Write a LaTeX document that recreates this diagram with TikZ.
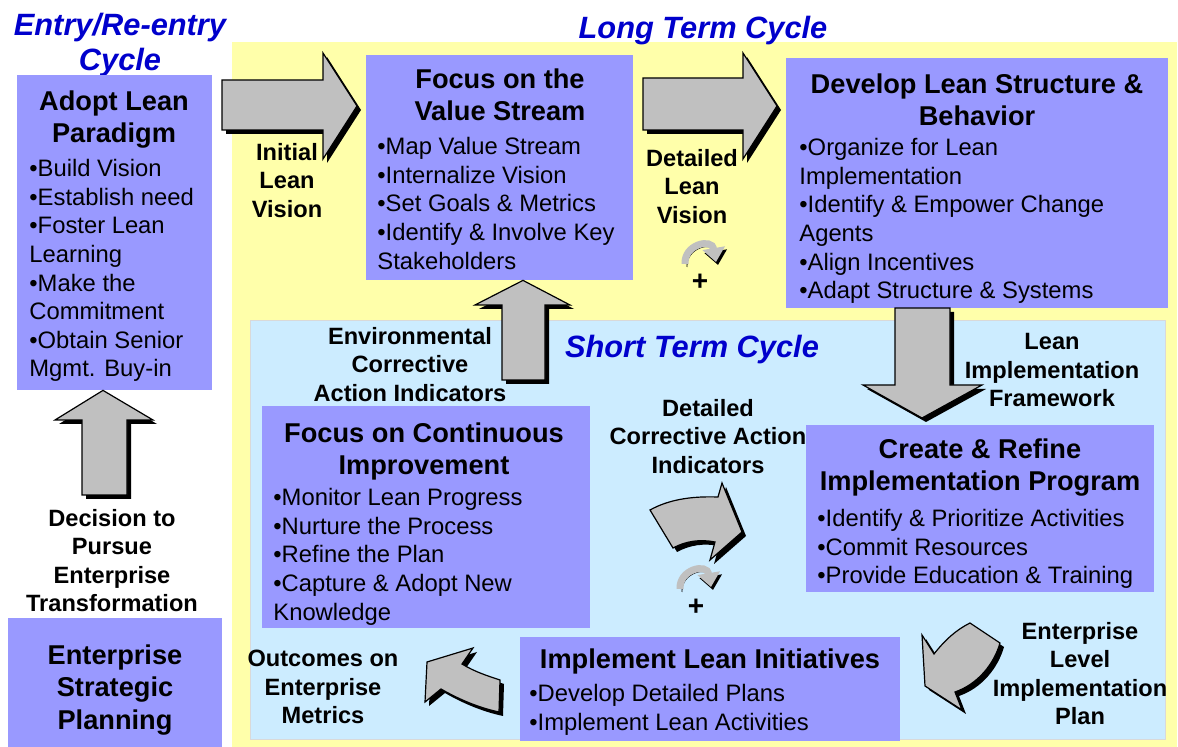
\documentclass[tikz,border=0pt]{standalone}
\usepackage{fontspec}
\setmainfont{Liberation Sans}
\usetikzlibrary{positioning, fit, arrows.meta}

\definecolor{boxblue}{RGB}{153,153,255}
\definecolor{longyellow}{RGB}{255,255,170}
\definecolor{shortblue}{RGB}{204,236,255}
\definecolor{headblue}{RGB}{0,0,204}
\definecolor{arrowgray}{RGB}{192,192,192}

\begin{document}
\begin{tikzpicture}[
				x=0.5pt, y=-0.5pt,
				box/.style={fill=boxblue, inner sep=0pt},
				boxtitle/.style={font=\fontsize{13.6}{16}\selectfont\bfseries, align=center, anchor=north, inner sep=0pt},
				boxlist/.style={font=\fontsize{11.9}{14.3}\selectfont, align=left, anchor=north west, inner sep=0pt},
				flowtext/.style={font=\fontsize{11.8}{14.2}\selectfont\bfseries, align=center, anchor=north, inner sep=0pt},
				cyclehead/.style={font=\fontsize{15.4}{17.5}\selectfont\bfseries\itshape, text=headblue, align=center, anchor=north, inner sep=0pt},
				bigarrow/.style={fill=arrowgray, draw=black, line width=0.6pt, line join=miter,
					preaction={fill=black, transform canvas={shift={(4,4)}}}},
				turnarrow/.style={draw=arrowgray, line width=3.5pt, -{Triangle[width=11pt,length=7pt]},
					preaction={draw=black, transform canvas={shift={(2,3)}}}},
				plus/.style={font=\fontsize{14}{14}\selectfont\bfseries, inner sep=0pt}
				]
				\useasboundingbox (0,0) rectangle (1178,747);
				\node[fill=longyellow, inner sep=0pt, fit={(232,42) (1177,747)}] (longcycle) {};
				\node[fill=shortblue, draw=black!15, inner sep=0pt, fit={(250,320) (1165,739)}] (shortcycle) {};

				\node[cyclehead] (entryhead) at (120,13) {Entry/Re-entry\\Cycle};
				\node[cyclehead] (longhead) at (703,16) {Long Term Cycle};
				\node[cyclehead] (shorthead) at (692,335) {Short Term Cycle};

				\node[box, fit={(17,75) (212,390)}] (adopt) {};
				\node[boxtitle] (adopt-title) at (114,90) {Adopt Lean\\Paradigm};
				\node[boxlist] (adopt-list) at (29,159) {•Build Vision\\•Establish need\\•Foster Lean\\Learning\\•Make the\\Commitment\\•Obtain Senior\\Mgmt. Buy-in};

				\node[box, fit={(8,618) (222,747)}] (strategic) {};
				\node[boxtitle, font=\fontsize{13.6}{16.3}\selectfont\bfseries] (strategic-title) at (115,644) {Enterprise\\Strategic\\Planning};

				\node[box, fit={(366,55) (633,280)}] (stream) {};
				\node[boxtitle] (stream-title) at (500,68) {Focus on the\\Value Stream};
				\node[boxlist] (stream-list) at (377,137) {•Map Value Stream\\•Internalize Vision\\•Set Goals \& Metrics\\•Identify \& Involve Key\\Stakeholders};

				\node[box, fit={(786,58) (1168,308)}] (structure) {};
				\node[boxtitle] (structure-title) at (977,73) {Develop Lean Structure \&\\Behavior};
				\node[boxlist] (structure-list) at (799,138) {•Organize for Lean\\Implementation\\•Identify \& Empower Change\\Agents\\•Align Incentives\\•Adapt Structure \& Systems};

				\node[box, fit={(262,406) (590,628)}] (improve) {};
				\node[boxtitle] (improve-title) at (424,422) {Focus on Continuous\\Improvement};
				\node[boxlist] (improve-list) at (273,488) {•Monitor Lean Progress\\•Nurture the Process\\•Refine the Plan\\•Capture \& Adopt New\\Knowledge};

				\node[box, fit={(806,425) (1154,592)}] (program) {};
				\node[boxtitle] (program-title) at (980,438) {Create \& Refine\\Implementation Program};
				\node[boxlist] (program-list) at (817,509) {•Identify \& Prioritize Activities\\•Commit Resources\\•Provide Education \& Training};

				\node[box, fit={(520,637) (900,741)}] (initiatives) {};
				\node[boxtitle] (initiatives-title) at (710,648) {Implement Lean Initiatives};
				\node[boxlist] (initiatives-list) at (529,684) {•Develop Detailed Plans\\•Implement Lean Activities};

				\draw[bigarrow] (222,80) -- (323,80) -- (323,53) -- (357,106) -- (323,159) -- (323,130) -- (222,130) -- cycle;
				\draw[bigarrow] (643,78) -- (743,78) -- (743,53) -- (777,106) -- (743,159) -- (743,130) -- (643,130) -- cycle;
				\draw[bigarrow] (stream.south -| 523,0) -- (570,305) -- (545,305) -- (545,380) -- (502,380) -- (502,305) -- (475,305) -- cycle;
				\draw[bigarrow] (adopt.south -| 103,0) -- (153,420) -- (127,420) -- (127,495) -- (82,495) -- (82,420) -- (55,420) -- cycle;
				\draw[bigarrow] (895,308) -- (950,308) -- (950,385) -- (982,385) -- (922,418) -- (863,385) -- (895,385) -- cycle;
				\draw[bigarrow] (650,510) .. controls (668,500) and (690,496) .. (718,497) -- (722,483) -- (742,532) -- (710,560) -- (715,542) .. controls (700,539) and (686,541) .. (673,548) -- cycle;
				\draw[bigarrow] (922,635) -- (934,654) .. controls (945,640) and (956,630) .. (970,623) -- (1000,643) .. controls (994,664) and (978,684) .. (955,692) -- (962,710) -- (925,686) -- cycle;
				\draw[bigarrow] (427,662) -- (473,648) -- (462,664) .. controls (475,672) and (488,676) .. (500,680) -- (499,712) .. controls (480,708) and (460,700) .. (441,689) -- (425,702) -- cycle;

				\draw[turnarrow] (685,264) .. controls (684,244) and (712,238) .. (716,262);
				\node[plus] (plus-long) at (700,282) {+};
				\draw[turnarrow] (680,589) .. controls (679,569) and (707,563) .. (711,587);
				\node[plus] (plus-short) at (696,607) {+};

				\node[flowtext] (initial) at (287,143) {Initial\\Lean\\Vision};
				\node[flowtext] (detailed) at (692,149) {Detailed\\Lean\\Vision};
				\node[flowtext] (environmental) at (410,327) {Environmental\\Corrective\\Action Indicators};
				\node[flowtext] (framework) at (1052,333) {Lean\\Implementation\\Framework};
				\node[flowtext] (corrective) at (708,399) {Detailed\\Corrective Action\\Indicators};
				\node[flowtext] (decision) at (112,509) {Decision to\\Pursue\\Enterprise\\Transformation};
				\node[flowtext] (outcomes) at (323,650) {Outcomes on\\Enterprise\\Metrics};
				\node[flowtext] (levelplan) at (1080,622) {Enterprise\\Level\\Implementation\\Plan};
			\end{tikzpicture}
\end{document}
